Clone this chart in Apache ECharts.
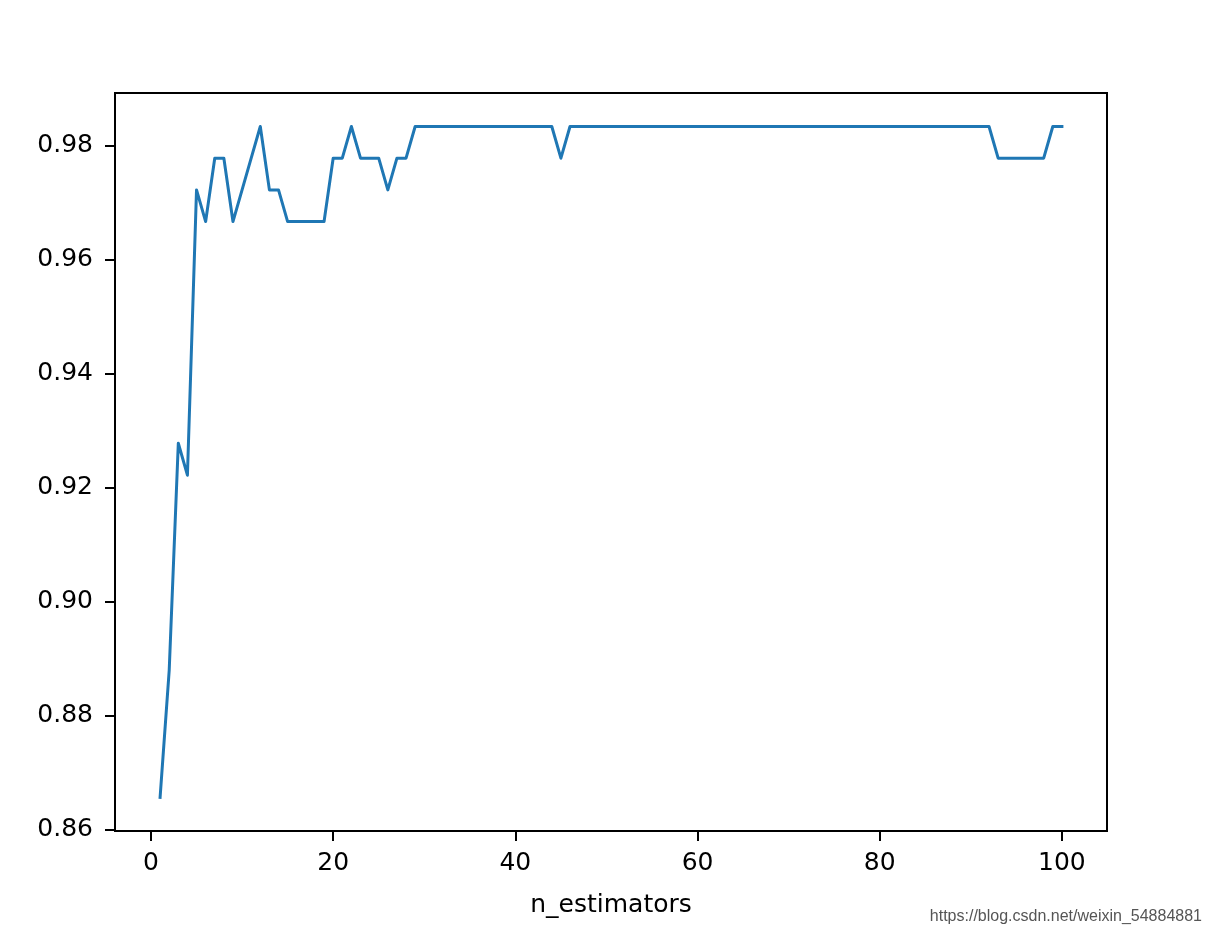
<!DOCTYPE html>
<html>
<head>
<meta charset="utf-8">
<script src="https://cdn.jsdelivr.net/npm/echarts@6/dist/echarts.min.js"></script>
<style>
html,body{margin:0;padding:0;background:#fff;}
#c{width:1211px;height:935px;}
#wm{position:absolute;right:9px;top:906px;font-family:"Liberation Sans",Arial,sans-serif;font-size:16px;line-height:20px;color:#555;}
</style>
</head>
<body>
<div id="c"></div>
<div id="wm">https://blog.csdn.net/weixin_54884881</div>
<script>
// accuracy for n_estimators = 1..100
const scores = [
  0.8657, 0.8880, 0.9278, 0.9222, 0.97222, 0.96667, 0.97778, 0.97778, 0.96667, 0.97222,
  0.97778, 0.98333, 0.97222, 0.97222, 0.96667, 0.96667, 0.96667, 0.96667, 0.96667, 0.97778,
  0.97778, 0.98333, 0.97778, 0.97778, 0.97778, 0.97222, 0.97778, 0.97778, 0.98333, 0.98333,
  0.98333, 0.98333, 0.98333, 0.98333, 0.98333, 0.98333, 0.98333, 0.98333, 0.98333, 0.98333,
  0.98333, 0.98333, 0.98333, 0.98333, 0.97778, 0.98333, 0.98333, 0.98333, 0.98333, 0.98333,
  0.98333, 0.98333, 0.98333, 0.98333, 0.98333, 0.98333, 0.98333, 0.98333, 0.98333, 0.98333,
  0.98333, 0.98333, 0.98333, 0.98333, 0.98333, 0.98333, 0.98333, 0.98333, 0.98333, 0.98333,
  0.98333, 0.98333, 0.98333, 0.98333, 0.98333, 0.98333, 0.98333, 0.98333, 0.98333, 0.98333,
  0.98333, 0.98333, 0.98333, 0.98333, 0.98333, 0.98333, 0.98333, 0.98333, 0.98333, 0.98333,
  0.98333, 0.98333, 0.97778, 0.97778, 0.97778, 0.97778, 0.97778, 0.97778, 0.98333, 0.98333
];
const xTicks = [0, 20, 40, 60, 80, 100];
const yTicks = [0.86, 0.88, 0.90, 0.92, 0.94, 0.96, 0.98];
const xName = 'n_estimators';

const data = scores.map((v, i) => [i + 1, v]);
const font = '"DejaVu Sans", sans-serif';

const chart = echarts.init(document.getElementById('c'), null, {renderer: 'canvas'});
chart.setOption({
  backgroundColor: '#fff',
  animation: false,
  grid: {left: 115, right: 104, top: 93, bottom: 104, show: true, borderColor: '#000', borderWidth: 2, backgroundColor: 'transparent'},
  xAxis: {
    type: 'value', min: -3.95, max: 104.95,
    name: xName, nameLocation: 'middle', nameGap: 62,
    nameTextStyle: {fontFamily: font, fontSize: 25, color: '#000'},
    axisLine: {show: false, onZero: false},
    splitLine: {show: false},
    axisTick: {show: true, length: 10, lineStyle: {color: '#000', width: 2}, customValues: xTicks},
    axisLabel: {customValues: xTicks, fontFamily: font, fontSize: 25, color: '#000', margin: 20}
  },
  yAxis: {
    type: 'value', min: 0.85982, max: 0.98921,
    axisLine: {show: false, onZero: false},
    splitLine: {show: false},
    axisTick: {show: true, length: 10, lineStyle: {color: '#000', width: 2}, customValues: yTicks},
    axisLabel: {customValues: yTicks, fontFamily: font, fontSize: 25, color: '#000', margin: 22,
      formatter: v => v.toFixed(2)}
  },
  series: [{
    type: 'line', data: data, showSymbol: false, symbol: 'none',
    lineStyle: {color: '#1f77b4', width: 3, join: 'round', cap: 'square'}
  }]
});
</script>
</body>
</html>
